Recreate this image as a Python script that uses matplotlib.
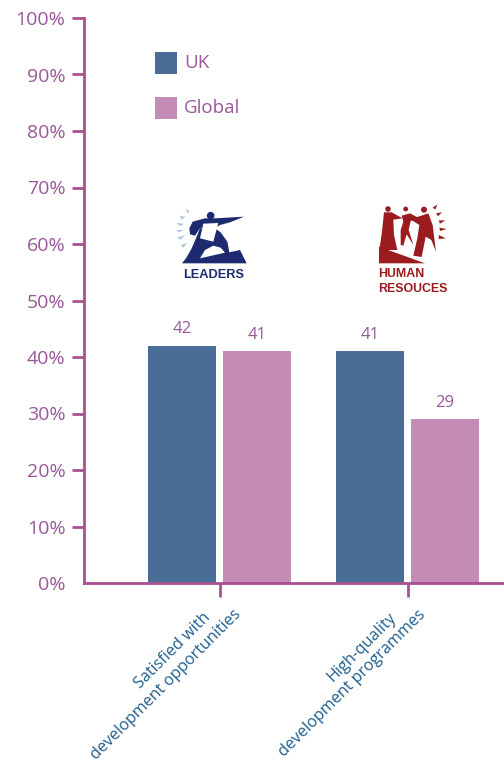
import matplotlib
matplotlib.use("Agg")
import matplotlib.pyplot as plt
from matplotlib.patches import Polygon, Circle, Rectangle

plt.rcParams['font.family'] = ['Open Sans', 'DejaVu Sans']

category_lines = [('Satisfied with', 'development opportunities'),
                  ('High-quality', 'development programmes')]
uk_values = [42, 41]
global_values = [41, 29]
y_ticks = list(range(0, 101, 10))

UK_BLUE = '#4a6d97'
GLOBAL_PINK = '#c48bb5'
AXIS_PURPLE = '#a94f92'
TEXT_PURPLE = '#98589a'
LABEL_BLUE = '#1f5f8f'
NAVY = '#1d2a70'
RED = '#9b1c1f'

W, H = 504, 764
fig = plt.figure(figsize=(W / 100, H / 100), dpi=100)

# axes box runs from the y axis line out to the right edge
ax = fig.add_axes([83.5 / W, 1 - 583 / H, (W - 83.5) / W, 565 / H])
x_left = (83.5 - 219.5) / 188
x_right = (504 - 219.5) / 188
ax.set_xlim(x_left, x_right)
ax.set_ylim(0, 100)

bar_w = 68 / 188
offset = 37.5 / 188
for i in range(len(category_lines)):
    ax.bar(i - offset, uk_values[i], bar_w, color=UK_BLUE, zorder=2)
    ax.bar(i + offset, global_values[i], bar_w, color=GLOBAL_PINK, zorder=2)
    ax.text(i - offset, uk_values[i] + 1.5, str(uk_values[i]), ha='center', va='bottom',
            fontsize=12, color=TEXT_PURPLE)
    ax.text(i + offset, global_values[i] + 1.5, str(global_values[i]), ha='center', va='bottom',
            fontsize=12, color=TEXT_PURPLE)

for side in ['top', 'right']:
    ax.spines[side].set_visible(False)
for side in ['left', 'bottom']:
    ax.spines[side].set_color(AXIS_PURPLE)
    ax.spines[side].set_linewidth(2)
    ax.spines[side].set_zorder(3)

ax.set_yticks(y_ticks)
ax.set_yticklabels([f'{v}%' for v in y_ticks], fontsize=14, color=TEXT_PURPLE)
ax.tick_params(axis='y', length=9, width=2, color=AXIS_PURPLE, pad=4)
# the zero line has no tick of its own
ax.yaxis.get_major_ticks()[0].tick1line.set_visible(False)
ax.set_xticks([0, 1])
ax.set_xticklabels([])
ax.tick_params(axis='x', length=10, width=2, color=AXIS_PURPLE)

# rotated category labels, each line placed by its centre
line_centres = [((173, 651), (166, 685)), ((362, 647), (352, 683))]
for lines, centres in zip(category_lines, line_centres):
    for text, (cx, cy) in zip(lines, centres):
        fig.text(cx / W, 1 - cy / H, text, rotation=45, rotation_mode='anchor',
                 ha='center', va='center', fontsize=11.6, color=LABEL_BLUE)

# overlay in pixel coordinates for the legend and the two logos
ov = fig.add_axes([0, 0, 1, 1])
ov.set_xlim(0, W)
ov.set_ylim(H, 0)
ov.axis('off')
ov.patch.set_alpha(0)

ov.add_patch(Rectangle((155, 52), 22, 22, color=UK_BLUE, lw=0))
ov.add_patch(Rectangle((155, 97), 22, 22, color=GLOBAL_PINK, lw=0))
ov.text(184, 63, 'UK', fontsize=13.5, color=TEXT_PURPLE, va='center')
ov.text(184, 108, 'Global', fontsize=13.5, color=TEXT_PURPLE, va='center')


def shape(points, x0, y0, color):
    pts = [(x0 + px / 3, y0 + py / 3) for px, py in points]
    ov.add_patch(Polygon(pts, closed=True, color=color, lw=0))


# leaders emblem: pointing figure on a hill
lx, ly = 150, 195
shape([(96, 205), (290, 205), (270, 165), (238, 172), (232, 140), (212, 112), (195, 100),
       (150, 100), (140, 125), (125, 160), (108, 190)], lx, ly, NAVY)
shape([(150, 190), (165, 165), (190, 152), (212, 158), (225, 173)], lx, ly, 'white')
shape([(118, 100), (128, 80), (165, 70), (195, 70), (282, 65), (240, 82), (210, 90),
       (195, 100), (150, 100), (135, 122), (120, 118)], lx, ly, NAVY)
shape([(160, 86), (205, 84), (190, 140), (150, 130)], lx, ly, 'white')
ov.add_patch(Circle((lx + 182 / 3, ly + 62 / 3), 3.8, color=NAVY, lw=0))
for ray in [[(107, 42), (120, 50), (112, 54)], [(90, 62), (106, 66), (94, 74)],
            [(80, 84), (102, 86), (90, 94)], [(78, 106), (100, 104), (88, 112)],
            [(80, 128), (106, 120), (92, 134)], [(92, 152), (112, 142), (100, 158)]]:
    shape(ray, lx, ly, '#a9c8e2')
ov.text(213.5, 274.5, 'LEADERS', family='Liberation Sans', fontweight='bold', fontsize=9.2,
        color=NAVY, ha='center', va='center')

# human resources emblem: three figures on a slope
hx, hy = 360, 195
shape([(57, 205), (57, 155), (195, 205)], hx, hy, RED)
shape([(72, 52), (95, 52), (128, 70), (100, 74), (102, 120), (112, 165), (58, 165),
       (66, 110)], hx, hy, RED)
ov.add_patch(Circle((hx + 84 / 3, hy + 42 / 3), 2.8, color=RED, lw=0))
shape([(125, 62), (150, 55), (178, 70), (152, 78), (146, 105), (160, 150), (140, 118),
       (130, 152), (122, 150), (122, 105), (130, 80)], hx, hy, RED)
ov.add_patch(Circle((hx + 137 / 3, hy + 42 / 3), 2.4, color=RED, lw=0))
shape([(150, 72), (178, 64), (205, 55), (218, 90), (228, 170), (214, 135), (197, 125),
       (185, 186), (160, 182), (172, 130), (178, 90)], hx, hy, RED)
ov.add_patch(Circle((hx + 192 / 3, hy + 44 / 3), 3.0, color=RED, lw=0))
for ray in [[(218, 38), (232, 28), (226, 44)], [(228, 55), (246, 52), (234, 64)],
            [(236, 76), (256, 76), (240, 86)], [(238, 98), (260, 102), (240, 108)],
            [(236, 120), (258, 130), (236, 132)]]:
    shape(ray, hx, hy, RED)
ov.text(378, 274, 'HUMAN', family='Liberation Sans', fontweight='bold', fontsize=8.9,
        color=RED, ha='left', va='center')
ov.text(378, 288.5, 'RESOUCES', family='Liberation Sans', fontweight='bold', fontsize=8.9,
        color=RED, ha='left', va='center')

fig.savefig('out.png', dpi=100)
